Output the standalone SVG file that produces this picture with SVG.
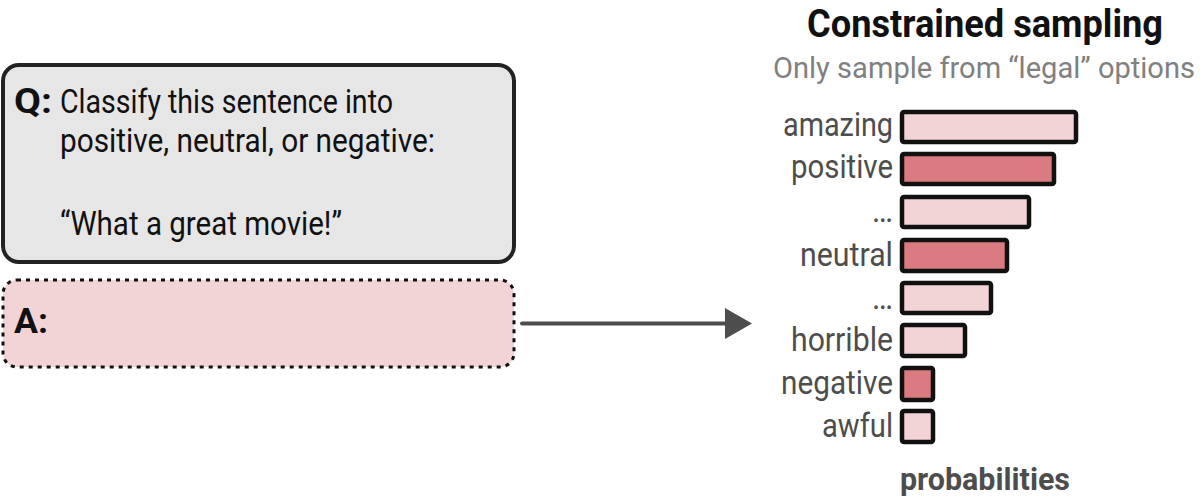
<svg xmlns="http://www.w3.org/2000/svg" width="1200" height="501" viewBox="0 0 1200 501">
<style>
.t{font-family:Roboto,"Liberation Sans",sans-serif;}
.q{font-size:33px;fill:#111;}
.qa{font-size:35px;fill:#111;font-weight:bold;}
.lbl{font-size:34px;fill:#4d4d4d;text-anchor:end;}
.lite{fill:#f2d4d6;stroke:#111;stroke-width:4.5;}
.dark{fill:#d97b80;stroke:#111;stroke-width:4.5;}
</style>
<defs>
<marker id="ah" viewBox="0 0 27 31" refX="0" refY="15.5" markerWidth="27" markerHeight="31" markerUnits="userSpaceOnUse" orient="auto">
<path d="M0,0 L27,15.5 L0,31 Z" fill="#4d4d4d"/>
</marker>
</defs>
<rect width="1200" height="501" fill="#fff"/>
<g id="question">
<rect x="3" y="65" width="511" height="197" rx="16" fill="#e6e6e6" stroke="#222" stroke-width="4"/>
<text class="t qa" x="14" y="113" textLength="38" lengthAdjust="spacingAndGlyphs">Q:</text>
<text class="t q" x="60" y="113" textLength="333" lengthAdjust="spacingAndGlyphs">Classify this sentence into</text>
<text class="t q" x="60" y="152" textLength="375" lengthAdjust="spacingAndGlyphs">positive, neutral, or negative:</text>
<text class="t q" x="60" y="235" textLength="282" lengthAdjust="spacingAndGlyphs">“What a great movie!”</text>
</g>
<g id="answer">
<rect x="3" y="280" width="511" height="87" rx="14" fill="#f2d4d6" stroke="#111" stroke-width="3" stroke-dasharray="4 5"/>
<text class="t qa" x="14" y="333" textLength="34" lengthAdjust="spacingAndGlyphs">A:</text>
</g>
<g id="connectors">
<line x1="522" y1="323.5" x2="725" y2="323.5" stroke="#4d4d4d" stroke-width="4" stroke-linecap="round" marker-end="url(#ah)"/>
</g>
<g id="title">
<text class="t" x="985" y="37" font-size="38" font-weight="bold" fill="#111" text-anchor="middle" textLength="356" lengthAdjust="spacingAndGlyphs">Constrained sampling</text>
<text class="t" x="984" y="78" font-size="29" fill="#808080" text-anchor="middle" textLength="422" lengthAdjust="spacingAndGlyphs">Only sample from “legal” options</text>
</g>
<g id="chart">
<rect class="lite" x="902" y="112" width="174" height="30" rx="2"/>
<text class="t lbl" x="893" y="136" textLength="110" lengthAdjust="spacingAndGlyphs">amazing</text>
<rect class="dark" x="902" y="154" width="152" height="30" rx="2"/>
<text class="t lbl" x="893" y="178" textLength="102" lengthAdjust="spacingAndGlyphs">positive</text>
<rect class="lite" x="902" y="197" width="127" height="30" rx="2"/>
<text class="t lbl" x="893" y="222" textLength="21" lengthAdjust="spacingAndGlyphs">…</text>
<rect class="dark" x="902" y="240" width="105" height="31" rx="2"/>
<text class="t lbl" x="893" y="266" textLength="93" lengthAdjust="spacingAndGlyphs">neutral</text>
<rect class="lite" x="902" y="283" width="89" height="30" rx="2"/>
<text class="t lbl" x="893" y="309" textLength="21" lengthAdjust="spacingAndGlyphs">…</text>
<rect class="lite" x="902" y="325" width="63" height="31" rx="2"/>
<text class="t lbl" x="893" y="351" textLength="102" lengthAdjust="spacingAndGlyphs">horrible</text>
<rect class="dark" x="902" y="368" width="31" height="32" rx="2"/>
<text class="t lbl" x="893" y="394" textLength="112" lengthAdjust="spacingAndGlyphs">negative</text>
<rect class="lite" x="902" y="411" width="31" height="31" rx="2"/>
<text class="t lbl" x="893" y="437" textLength="71" lengthAdjust="spacingAndGlyphs">awful</text>
<text class="t" x="900" y="490" font-size="31" font-weight="bold" fill="#4d4d4d" textLength="170" lengthAdjust="spacingAndGlyphs">probabilities</text>
</g>
</svg>
